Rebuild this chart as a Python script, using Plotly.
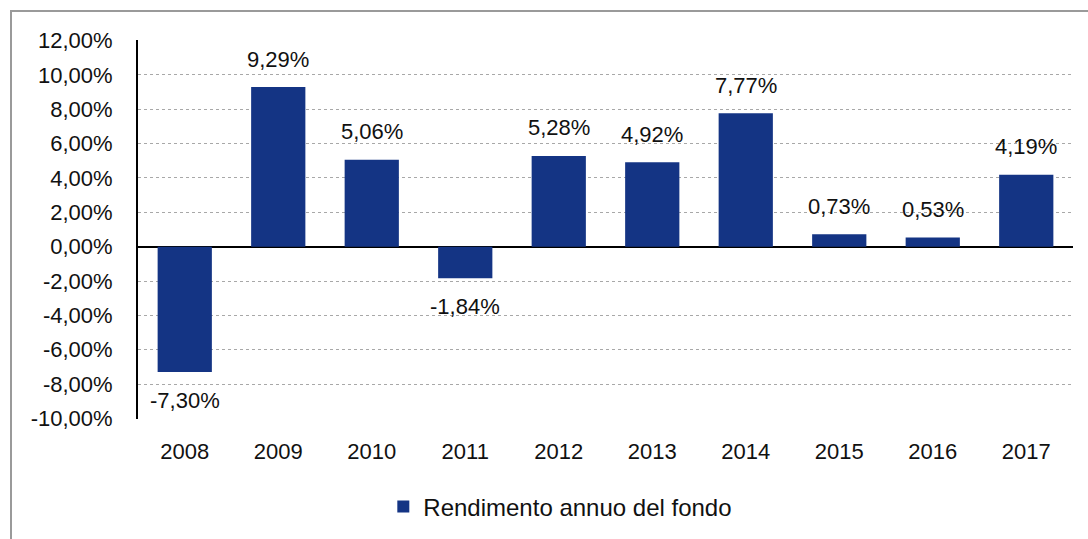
import plotly.graph_objects as go

years = ["2008", "2009", "2010", "2011", "2012", "2013", "2014", "2015", "2016", "2017"]
returns = [-7.30, 9.29, 5.06, -1.84, 5.28, 4.92, 7.77, 0.73, 0.53, 4.19]
labels = ["-7,30%", "9,29%", "5,06%", "-1,84%", "5,28%", "4,92%", "7,77%", "0,73%", "0,53%", "4,19%"]
ytick_vals = [-10, -8, -6, -4, -2, 0, 2, 4, 6, 8, 10, 12]
ytick_text = ["-10,00%", "-8,00%", "-6,00%", "-4,00%", "-2,00%", "0,00%", "2,00%", "4,00%",
              "6,00%", "8,00%", "10,00%", "12,00%"]
series_name = "Rendimento annuo del fondo"
title_text = "Rendimento annuo del fondo"

W, H = 1088, 539
L, R, T, B = 138, 15, 40, 120
pw, ph = W - L - R, H - T - B

def px_x(x):
    return (x - L) / pw

def px_y(y):
    return (H - B - y) / ph

FONT = "Liberation Sans"
BAR = "#143484"
TXT = "#111111"

fig = go.Figure()
fig.add_trace(go.Bar(
    x=years, y=returns, name=series_name, marker=dict(color=BAR, line=dict(width=0)),
    showlegend=True,
))

annotations = []
for i, (v, t) in enumerate(zip(returns, labels)):
    annotations.append(dict(
        x=i, y=v, xref="x", yref="y", text=t, showarrow=False,
        yanchor="middle", yshift=28 if v >= 0 else -28,
        font=dict(family=FONT, size=22, color=TXT),
    ))
annotations.append(dict(
    x=px_x(567), y=px_y(6), xref="paper", yref="paper", xanchor="center", yanchor="bottom",
    text=title_text, showarrow=False,
    font=dict(family=FONT, size=22, color="#1f3f8f"),
))

shapes = [
    dict(type="line", xref="paper", yref="paper", x0=px_x(11), x1=px_x(11), y0=px_y(10), y1=px_y(560),
         line=dict(color="#9a9a9a", width=2)),
    dict(type="line", xref="paper", yref="paper", x0=px_x(10), x1=px_x(1100), y0=px_y(11), y1=px_y(11),
         line=dict(color="#9a9a9a", width=2)),
]

fig.update_layout(
    width=W, height=H,
    margin=dict(l=L, r=R, t=T, b=B, autoexpand=False),
    paper_bgcolor="white", plot_bgcolor="white",
    font=dict(family=FONT, size=22, color=TXT),
    bargap=0.42,
    annotations=annotations,
    shapes=shapes,
    showlegend=True,
    legend=dict(orientation="h", xref="container", yref="container", x=0.515, xanchor="center",
                y=(H - 507) / H, yanchor="middle", font=dict(family=FONT, size=24, color=TXT),
                itemwidth=30),
    xaxis=dict(type="category", range=[-0.5, 9.5], showline=False, showgrid=False,
               ticks="outside", ticklen=13, tickcolor="rgba(0,0,0,0)", automargin=False,
               tickfont=dict(family=FONT, size=22, color=TXT), fixedrange=True),
    yaxis=dict(range=[-10.03, 12.03], tickvals=ytick_vals, ticktext=ytick_text, automargin=False,
               showgrid=True, gridcolor="#a8a8a8", griddash="dot", gridwidth=1,
               zeroline=True, zerolinecolor="#000000", zerolinewidth=2,
               showline=True, linecolor="#000000", linewidth=2,
               ticks="outside", ticklen=19, tickcolor="rgba(0,0,0,0)",
               tickfont=dict(family=FONT, size=22, color=TXT), fixedrange=True),
)

fig.write_html("out.html", config={"displayModeBar": False},
               post_script="document.body.style.margin='0';document.body.style.overflow='hidden';")
